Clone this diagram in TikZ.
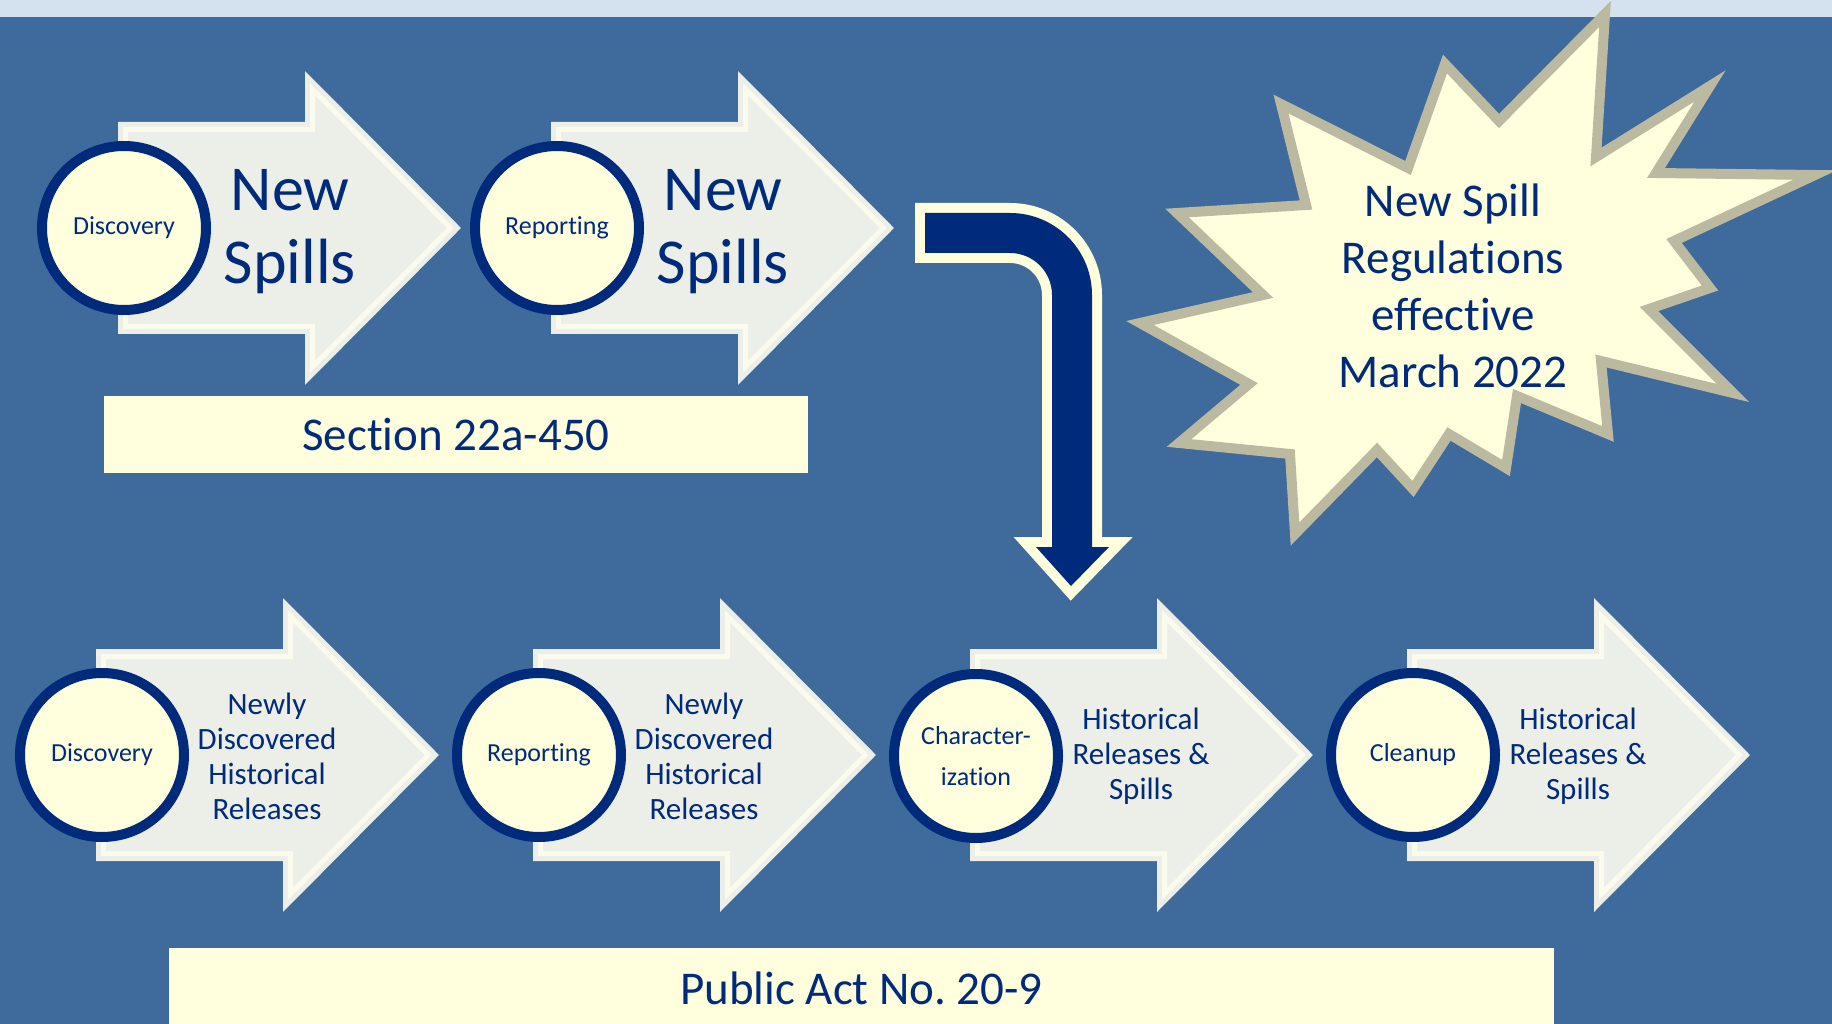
\documentclass[tikz,border=0pt]{standalone}
\usepackage{fontspec}
\setmainfont{Carlito}[Ligatures={NoCommon,NoContextual}]
\frenchspacing
\usetikzlibrary{positioning}
\definecolor{slideblue}{HTML}{3E6A9C}
\definecolor{topband}{HTML}{D4E2EF}
\definecolor{navy}{HTML}{002A7C}
\definecolor{cream}{HTML}{FFFFDD}
\definecolor{arrowgray}{HTML}{ECEEE8}
\definecolor{arrowrim}{HTML}{FAFBEC}
\definecolor{burstrim}{HTML}{BCB9A1}

\tikzset{
  chevron/.style={draw=arrowgray,line width=5pt,double=arrowrim,double distance=5pt,fill=arrowgray},
  stage/.style={circle,draw=navy,line width=10pt,fill=cream,minimum size=164pt,inner sep=0pt,
    text=navy,align=center,font=\fontsize{26}{41}\selectfont},
  bigtext/.style={text=navy,align=center,font=\fontsize{64}{73}\selectfont},
  steptext/.style={text=navy,align=center,font=\fontsize{31}{35}\selectfont},
  lawbox/.style={fill=cream,inner sep=0pt,text=navy,font=\fontsize{47}{57}\selectfont},
  burst/.style={draw=burstrim,line width=10pt,fill=cream,line join=miter},
  bursttext/.style={text=navy,align=center,font=\fontsize{47}{57}\selectfont}
}

\begin{document}
\begin{tikzpicture}[x=1pt,y=-1pt]
			\useasboundingbox (0,0) rectangle (1832,1024);
			\fill[slideblue] (0,0) rectangle (1832,1024);
			\fill[topband] (0,0) rectangle (1832,17);
			% chevrons, top row = new spills, bottom row = historical releases
			\foreach \l/\c in {118/228,551/228,96/755,533/755,970/755,1407/755}
			  \draw[chevron] (\l+7.5,\c-98.5) -- (\l+194.5,\c-98.5) -- (\l+194.5,\c-138.8) -- (\l+332.4,\c)
			    -- (\l+194.5,\c+138.8) -- (\l+194.5,\c+98.5) -- (\l+7.5,\c+98.5) -- cycle;
			\node[stage] (newdisc) at (124,228) {Discovery};
			\node[stage] (newrep) at (557,228) {Reporting};
			\node[bigtext] (newdisctext) at (290,232) {New\\Spills};
			\node[bigtext] (newreptext) at (723,232) {New\\Spills};
			\node[lawbox,minimum width=704pt,minimum height=77pt] (section) at (456,434.5) {Section 22a-450};
			
			\node[stage] (olddisc) at (102,755) {Discovery};
			\node[stage] (oldrep) at (539,755) {Reporting};
			\node[stage] (oldchar) at (976,756) {Character-\\ization};
			\node[stage] (oldclean) at (1413,755) {Cleanup};
			\node[steptext] (olddisctext) at (267,756) {Newly\\Discovered\\Historical\\Releases};
			\node[steptext] (oldreptext) at (704,756) {Newly\\Discovered\\Historical\\Releases};
			\node[steptext] (oldchartext) at (1141,756) {Historical\\Releases \&\\Spills};
			\node[steptext] (oldcleantext) at (1578,756) {Historical\\Releases \&\\Spills};
			\node[lawbox,minimum width=1385pt,minimum height=80pt] (act) at (861.5,988) {Public Act No. 20-9};
			
			% bent arrow down to the bottom row
			\fill[navy,preaction={draw=cream,line width=20pt,line join=miter}]
			  (925,213) -- (1010,213) arc[start angle=270,end angle=360,radius=82] -- (1092,547)
			  -- (1109,547) -- (1071,586) -- (1036,547) -- (1052,547) -- (1052,295)
			  arc[start angle=0,end angle=-90,radius=42] -- (925,253) -- cycle;
			
			% starburst
			\draw[burst] (1605,14) -- (1596,157) -- (1710,86) -- (1656,173) -- (1815,175) -- (1674,241)
			  -- (1710,288) -- (1649,309) -- (1733,393) -- (1601,361) -- (1608,434) -- (1517,396)
			  -- (1506,468) -- (1449,434) -- (1413,489) -- (1377,450) -- (1295,534) -- (1290,454)
			  -- (1179,443) -- (1249,384) -- (1140,323) -- (1263,295) -- (1177,213) -- (1306,205)
			  -- (1281,104) -- (1408,168) -- (1445,64) -- (1499,121) -- cycle;
			\node[bursttext] (rule) at (1453,286) {New Spill\\Regulations\\effective\\March 2022};
\end{tikzpicture}
\end{document}
